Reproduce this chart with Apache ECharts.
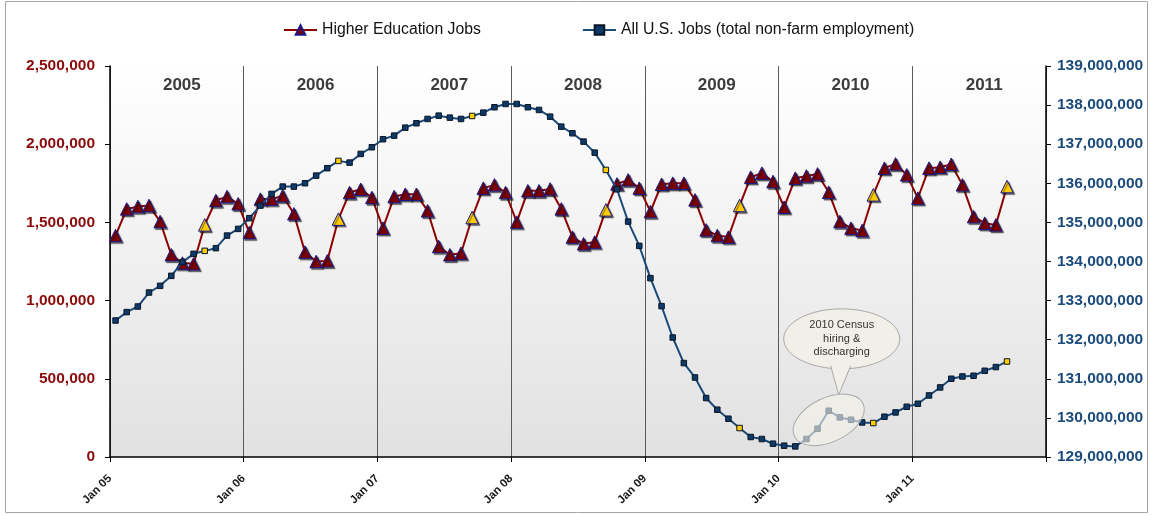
<!DOCTYPE html>
<html>
<head>
<meta charset="utf-8">
<title>Higher Education Jobs vs All U.S. Jobs</title>
<script src="https://cdn.jsdelivr.net/npm/echarts@6/dist/echarts.min.js"></script>
<style>
  html, body { margin: 0; padding: 0; background: #fff; }
  #chart { width: 1153px; height: 515px; }
</style>
</head>
<body>
<div id="chart"></div>
<script>
// month labels Jan 05 .. Dec 11
const monthNames = ['Jan', 'Feb', 'Mar', 'Apr', 'May', 'Jun', 'Jul', 'Aug', 'Sep', 'Oct', 'Nov', 'Dec'];
const yearSuffixes = ['05', '06', '07', '08', '09', '10', '11'];
const yearLabels = ['2005', '2006', '2007', '2008', '2009', '2010', '2011'];

const categories = [];
yearSuffixes.forEach(y => monthNames.forEach(m => categories.push(m + ' ' + y)));

// left axis (Higher Education Jobs), Jan 05 .. Sep 11
const higherEdJobs = [
  1416000, 1586000, 1601000, 1608000, 1505000, 1293000, 1240000, 1235000, 1484000, 1640000, 1665000, 1619000,
  1435000, 1649000, 1649000, 1670000, 1555000, 1310000, 1250000, 1254000, 1521000, 1691000, 1712000, 1659000,
  1463000, 1665000, 1680000, 1680000, 1574000, 1346000, 1293000, 1303000, 1531000, 1719000, 1740000, 1691000,
  1502000, 1702000, 1702000, 1714000, 1586000, 1406000, 1363000, 1374000, 1580000, 1746000, 1772000, 1719000,
  1569000, 1744000, 1751000, 1751000, 1644000, 1452000, 1416000, 1406000, 1608000, 1789000, 1815000, 1761000,
  1597000, 1783000, 1797000, 1810000, 1693000, 1505000, 1463000, 1448000, 1676000, 1847000, 1874000, 1804000,
  1655000, 1847000, 1853000, 1872000, 1740000, 1537000, 1495000, 1484000, 1729000
];

// right axis (total non-farm employment)
const allUsJobs = [
  132491000, 132706000, 132849000, 133207000, 133378000, 133633000, 133983000, 134196000, 134272000, 134341000, 134663000, 134834000,
  135108000, 135430000, 135729000, 135916000, 135916000, 136002000, 136197000, 136386000, 136572000, 136529000, 136751000, 136922000,
  137127000, 137219000, 137423000, 137536000, 137646000, 137730000, 137679000, 137646000, 137722000, 137807000, 137945000, 138029000,
  138029000, 137945000, 137876000, 137704000, 137449000, 137280000, 137066000, 136784000, 136342000, 135849000, 135021000, 134400000,
  133574000, 132858000, 132056000, 131402000, 131034000, 130508000, 130209000, 129979000, 129741000, 129511000, 129460000, 129340000,
  129289000, 129271000, 129460000, 129723000, 130183000, 130012000, 129953000, 129884000, 129869000, 130030000, 130140000, 130285000,
  130362000, 130574000, 130779000, 131001000, 131060000, 131078000, 131205000, 131300000, 131443000
];

const leftTicks = { min: 0, max: 2500000, interval: 500000 };
const rightTicks = { min: 129000000, max: 139000000, interval: 1000000 };

const censusLabel = '2010 Census\nhiring &\ndischarging';
const censusMonth = 64; // May 10

const FONT = "'Liberation Sans', Arial, sans-serif";
const HILITE = '#ffcc00';

const fmt = v => String(v).replace(/\B(?=(\d{3})+(?!\d))/g, ',');

// September points are drawn in yellow
const withHighlight = arr => arr.map((v, i) =>
  i % 12 === 8 ? { value: v, itemStyle: { color: HILITE } } : v
);

const chartDom = document.getElementById('chart');
const chart = echarts.init(chartDom, null, { renderer: 'canvas' });

const option = {
  animation: false,
  textStyle: { fontFamily: FONT },
  legend: {
    top: 17,
    left: 278,
    itemWidth: 33,
    itemHeight: 12,
    itemGap: 101,
    textStyle: { fontSize: 15.8, color: '#111', fontFamily: FONT },
    data: ['Higher Education Jobs', 'All U.S. Jobs (total non-farm employment)']
  },
  grid: {
    left: 110,
    right: 107,
    top: 66,
    bottom: 58,
    show: true,
    borderWidth: 0,
    backgroundColor: new echarts.graphic.LinearGradient(0, 0, 0, 1, [
      { offset: 0, color: '#ffffff' },
      { offset: 1, color: '#e1e1e1' }
    ])
  },
  xAxis: [
    {
      type: 'category',
      data: categories,
      boundaryGap: true,
      position: 'bottom',
      axisLine: { lineStyle: { color: '#000', width: 1.5 } },
      axisTick: { show: true, interval: 11, length: 5, lineStyle: { color: '#000' } },
      splitLine: { show: true, interval: 11, lineStyle: { color: '#5a5a5a', width: 1 } },
      axisLabel: {
        interval: 11,
        rotate: 45,
        margin: 14,
        padding: [0, 8, 0, 0],
        fontSize: 11.5,
        fontWeight: 'bold',
        color: '#1a1a1a'
      }
    },
    {
      type: 'category',
      data: yearLabels,
      boundaryGap: true,
      position: 'top',
      axisLine: { show: false },
      axisTick: { show: false },
      splitLine: { show: false },
      axisLabel: {
        inside: true,
        margin: 11,
        padding: [0, 0, 0, 10],
        fontSize: 17,
        fontWeight: 'bold',
        color: '#3c3c3c'
      }
    }
  ],
  yAxis: [
    {
      type: 'value',
      position: 'left',
      min: leftTicks.min,
      max: leftTicks.max,
      interval: leftTicks.interval,
      axisLine: { show: true, lineStyle: { color: '#000', width: 1.5 } },
      axisTick: { show: true, length: 5, lineStyle: { color: '#000' } },
      splitLine: { show: false },
      axisLabel: {
        formatter: fmt,
        margin: 15,
        fontSize: 15.5,
        fontWeight: 'bold',
        color: '#8b0a0a'
      }
    },
    {
      type: 'value',
      position: 'right',
      min: rightTicks.min,
      max: rightTicks.max,
      interval: rightTicks.interval,
      axisLine: { show: true, lineStyle: { color: '#000', width: 1.5 } },
      axisTick: { show: true, length: 5, lineStyle: { color: '#000' } },
      splitLine: { show: false },
      axisLabel: {
        formatter: fmt,
        margin: 11,
        fontSize: 15.5,
        fontWeight: 'bold',
        color: '#1b4a7c'
      }
    }
  ],
  series: [
    {
      name: 'Higher Education Jobs',
      type: 'line',
      xAxisIndex: 0,
      yAxisIndex: 0,
      data: withHighlight(higherEdJobs),
      symbol: 'triangle',
      symbolSize: 12.5,
      showAllSymbol: true,
      lineStyle: { color: '#8b0000', width: 2 },
      itemStyle: {
        color: '#7d0000',
        borderColor: '#1a1a8a',
        borderWidth: 1,
        shadowColor: 'rgba(0,0,0,0.55)',
        shadowOffsetX: 1.5,
        shadowOffsetY: 1.5,
        shadowBlur: 1
      },
      z: 2
    },
    {
      name: 'All U.S. Jobs (total non-farm employment)',
      type: 'line',
      xAxisIndex: 0,
      yAxisIndex: 1,
      data: withHighlight(allUsJobs),
      symbol: 'rect',
      symbolSize: 5.5,
      showAllSymbol: true,
      lineStyle: { color: '#1b4a7a', width: 2 },
      itemStyle: {
        color: '#0d3a68',
        borderColor: '#0a1626',
        borderWidth: 1
      },
      z: 3
    }
  ]
};

chart.setOption(option);

// callout around the census bump, placed from data coordinates
const p = chart.convertToPixel({ xAxisIndex: 0, yAxisIndex: 1 }, [censusMonth, 129950000]);
const bx = p[0] + 13, by = p[1] - 81;
const tipX = p[0] + 10, tipY = p[1] - 25;
const bubbleFill = '#f1efe8';
const bubbleLine = '#a9a9a9';

chart.setOption({
  graphic: [
    {
      type: 'rect',
      silent: true,
      shape: { x: 5.5, y: 1.5, width: 1142, height: 511 },
      style: { fill: 'none', stroke: '#a6a6a6', lineWidth: 1 }
    },
    {
      type: 'ellipse',
      silent: true,
      x: p[0],
      y: p[1],
      rotation: 0.45,
      shape: { cx: 0, cy: 0, rx: 38, ry: 22 },
      style: { fill: 'rgba(244,242,234,0.62)', stroke: bubbleLine, lineWidth: 1 },
      z: 10
    },
    {
      type: 'ellipse',
      silent: true,
      shape: { cx: bx, cy: by, rx: 58, ry: 30 },
      style: { fill: bubbleFill, stroke: bubbleLine, lineWidth: 1 },
      z: 10
    },
    {
      type: 'polygon',
      silent: true,
      shape: { points: [[bx - 12, by + 24], [bx + 10, by + 24], [tipX, tipY]] },
      style: { fill: bubbleFill },
      z: 11
    },
    {
      type: 'polyline',
      silent: true,
      shape: { points: [[bx - 11, by + 27], [tipX, tipY], [bx + 9, by + 27]] },
      style: { stroke: bubbleLine, fill: 'none', lineWidth: 1 },
      z: 11
    },
    {
      type: 'text',
      silent: true,
      x: bx,
      y: by,
      style: {
        text: censusLabel,
        align: 'center',
        verticalAlign: 'middle',
        font: '11px ' + FONT,
        lineHeight: 13.5,
        fill: '#333'
      },
      z: 12
    }
  ]
});
</script>
</body>
</html>
